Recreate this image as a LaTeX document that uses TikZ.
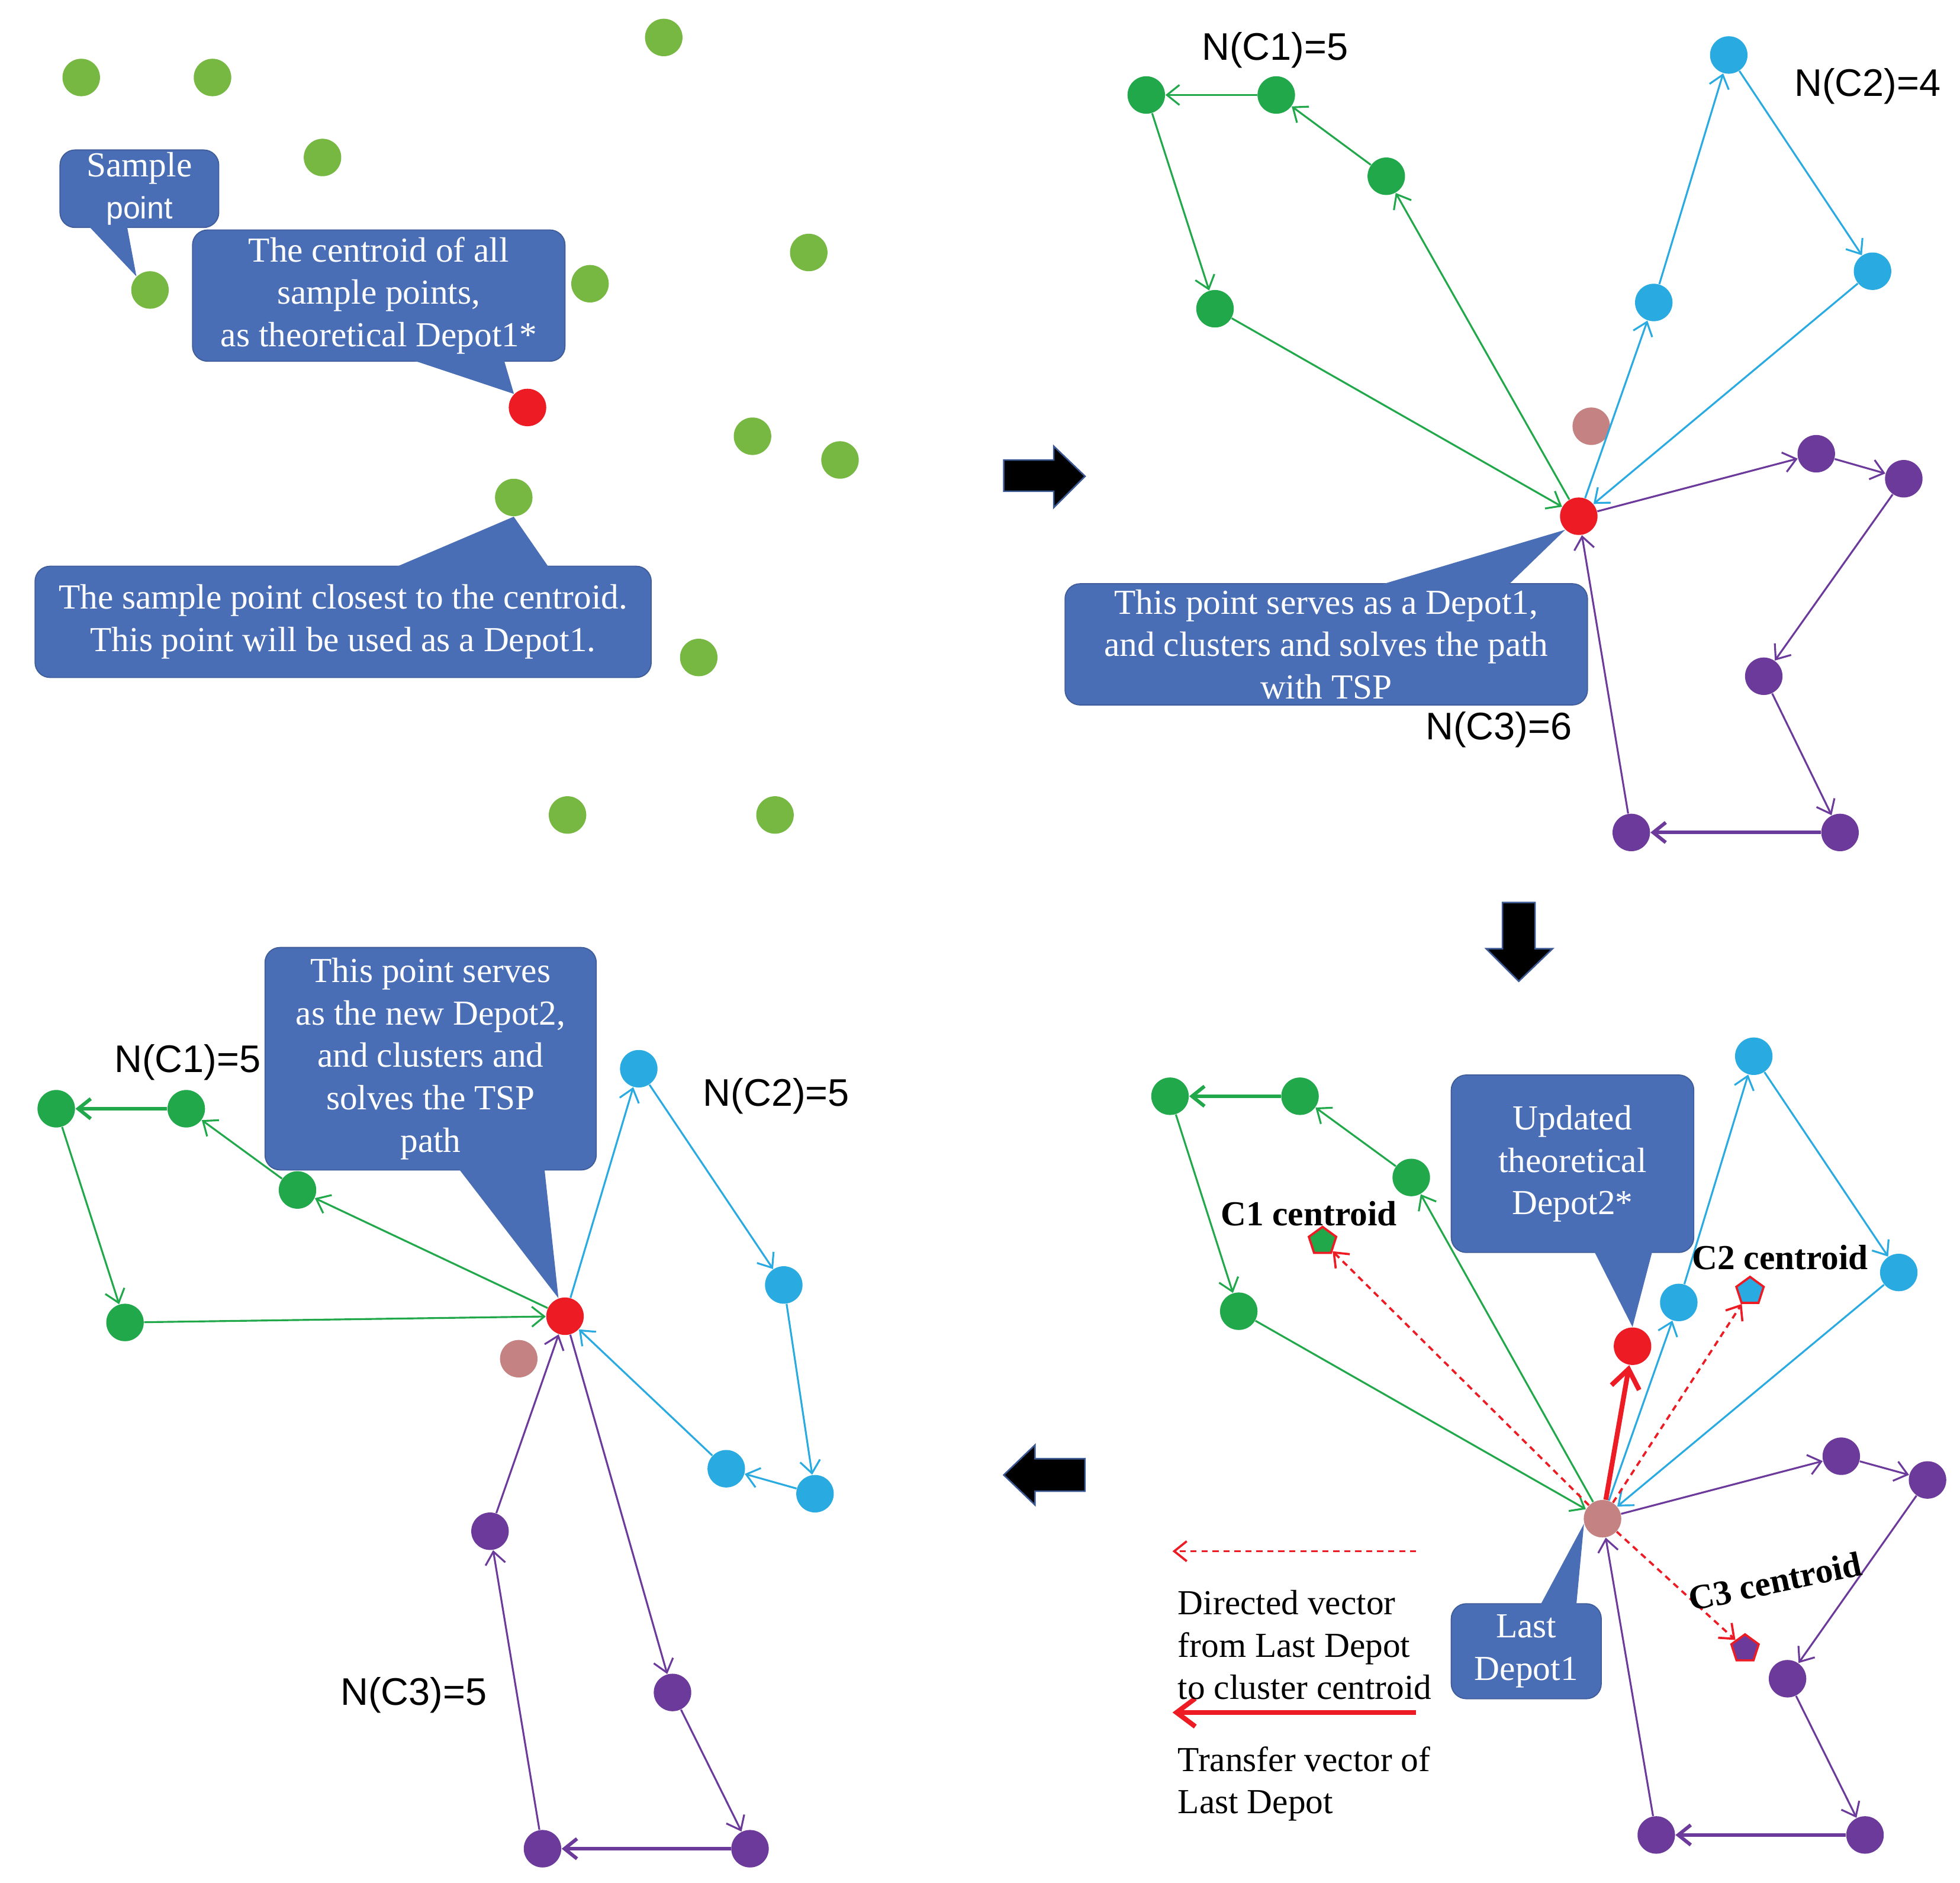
\documentclass[tikz,border=0pt]{standalone}
\usepackage{fontspec}
\setmainfont{Liberation Serif}
\setsansfont{Liberation Sans}
\usepackage{tikz}
\usetikzlibrary{arrows.meta, calc, shapes.geometric}
\definecolor{ptgreen}{HTML}{77B843}
\definecolor{cgreen}{HTML}{21A84B}
\definecolor{ccyan}{HTML}{29ABE2}
\definecolor{cpurple}{HTML}{6B3A9B}
\definecolor{dred}{HTML}{ED1C24}
\definecolor{dbrown}{HTML}{C48282}
\definecolor{callblue}{HTML}{4A6EB6}

\begin{document}
\begin{tikzpicture}[x=0.02cm, y=-0.02cm, >={Straight Barb[length=2mm,width=3.2mm]},
  dot/.style={circle, inner sep=0pt, minimum size=0.6cm},
  sdot/.style={dot, fill=ptgreen}, gdot/.style={dot, fill=cgreen},
  cdot/.style={dot, fill=ccyan}, pdot/.style={dot, fill=cpurple},
  rdot/.style={dot, fill=dred}, bdot/.style={dot, fill=dbrown},
  gedge/.style={->, cgreen, line width=0.85pt},
  cedge/.style={->, ccyan, line width=0.85pt},
  pedge/.style={->, cpurple, line width=0.85pt},
  heavy/.style={line width=1.6pt},
  callout/.style={fill=callblue, draw=callblue!85!black, line width=0.5pt, rounded corners=0.24cm,
    text=white, align=center, inner sep=0pt, font=\fontsize{16}{19.3}\selectfont},
  tail/.style={fill=callblue},
  nlabel/.style={font=\sffamily\fontsize{17.5}{21}\selectfont},
  clabel/.style={font=\bfseries\fontsize{16}{19.3}\selectfont},
  legtext/.style={anchor=west, align=left, inner sep=0pt, font=\fontsize{16}{19.3}\selectfont},
  centr/.style={regular polygon, regular polygon sides=5, inner sep=0pt, minimum size=0.46cm, draw=dred, line width=1pt},
  vecdash/.style={->, dred, line width=1pt, dash pattern=on 2.8pt off 2.2pt},
  vecmove/.style={-{Straight Barb[length=3mm,width=4.5mm]}, dred, line width=2.2pt},
  blockarrow/.style={fill=black, draw=callblue!80!black, line width=0.7pt}]
\useasboundingbox (0,0) rectangle (1568,1506);

% ---- panel 1: sample points ----
\node[sdot] (s1) at (65,62) {};
\node[sdot] (s2) at (170,62) {};
\node[sdot] (s3) at (531,30) {};
\node[sdot] (s4) at (258,126) {};
\node[sdot] (s5) at (120,232) {};
\node[sdot] (s6) at (472,227) {};
\node[sdot] (s7) at (647,202) {};
\node[sdot] (s8) at (602,349) {};
\node[sdot] (s9) at (672,368) {};
\node[sdot] (s10) at (411,398) {};
\node[sdot] (s11) at (559,526) {};
\node[sdot] (s12) at (454,652) {};
\node[sdot] (s13) at (620,652) {};
\node[rdot] (cen1) at (422,326) {};

\node[callout, minimum width=2.54cm, minimum height=1.24cm] (cSample) at (111.5,151) {Sample\\{\sffamily\fontsize{14}{19.3}\selectfont point}};
\fill[tail] ($(cSample.south)+(-41,-2)$) -- ($(cSample.south)+(-10,-2)$) -- (s5.north west) -- cycle;
\node[callout, minimum width=5.96cm, minimum height=2.1cm] (cCentroid) at (303,236.5) {The centroid of all\\sample points,\\as theoretical Depot1*};
\fill[tail] ($(cCentroid.south)+(25,-2)$) -- ($(cCentroid.south)+(100,-2)$) -- (cen1.north west) -- cycle;
\node[callout, minimum width=9.86cm, minimum height=1.78cm] (cClosest) at (274.5,497.5) {The sample point closest to the centroid.\\This point will be used as a Depot1.};
\fill[tail] ($(cClosest.north)+(40,2)$) -- ($(cClosest.north)+(165,2)$) -- (s10.south) -- cycle;

% ---- block arrows between panels ----
\filldraw[blockarrow] (803,368) -- (843,368) -- (843,357) -- (868,381) -- (843,406) -- (843,393) -- (803,393) -- cycle;
\filldraw[blockarrow] (1202,722) -- (1228,722) -- (1228,759) -- (1242,759) -- (1215,785) -- (1189,759) -- (1202,759) -- cycle;
\filldraw[blockarrow] (868,1167) -- (828,1167) -- (828,1156) -- (803,1180) -- (828,1204) -- (828,1193) -- (868,1193) -- cycle;

% ---- panel 2: clusters around Depot1 ----
\node[bdot] (bA) at (1273,341) {};
\node[rdot] (dA) at (1263,413) {};
\node[gdot] (gA1) at (917,76) {};
\node[gdot] (gA2) at (1021,76) {};
\node[gdot] (gA3) at (1109,141) {};
\node[gdot] (gA4) at (972,247) {};
\node[cdot] (cA1) at (1383,44) {};
\node[cdot] (cA2) at (1498,217) {};
\node[cdot] (cA3) at (1323,242) {};
\node[pdot] (pA1) at (1453,363) {};
\node[pdot] (pA2) at (1523,383) {};
\node[pdot] (pA3) at (1411,541) {};
\node[pdot] (pA4) at (1472,666) {};
\node[pdot] (pA5) at (1305,666) {};
\draw[gedge] (dA) -- (gA3);
\draw[gedge] (gA3) -- (gA2);
\draw[gedge] (gA2) -- (gA1);
\draw[gedge] (gA1) -- (gA4);
\draw[gedge] (gA4) -- (dA);
\draw[cedge] (dA) -- (cA3);
\draw[cedge] (cA3) -- (cA1);
\draw[cedge] (cA1) -- (cA2);
\draw[cedge] (cA2) -- (dA);
\draw[pedge] (dA) -- (pA1);
\draw[pedge] (pA1) -- (pA2);
\draw[pedge] (pA2) -- (pA3);
\draw[pedge] (pA3) -- (pA4);
\draw[pedge, heavy] (pA4) -- (pA5);
\draw[pedge] (pA5) -- (dA);
\node[nlabel] (nA1) at (1020,40) {N(C1)=5};
\node[nlabel] (nA2) at (1494,69) {N(C2)=4};
\node[nlabel] (nA3) at (1199,584) {N(C3)=6};
\node[callout, minimum width=8.36cm, minimum height=1.94cm] (cDepotA) at (1061,515.5) {This point serves as a Depot1,\\and clusters and solves the path\\with TSP};
\fill[tail] ($(cDepotA.north)+(41,2)$) -- ($(cDepotA.north)+(145,2)$) -- (dA.south west) -- cycle;

% ---- panel 3: clusters around Depot2 ----
\node[bdot] (bB) at (415,1087) {};
\node[rdot] (dB) at (452,1053) {};
\node[gdot] (gB1) at (45,887) {};
\node[gdot] (gB2) at (149,887) {};
\node[gdot] (gB3) at (238,952) {};
\node[gdot] (gB4) at (100,1058) {};
\node[cdot] (cB1) at (511,855) {};
\node[cdot] (cB2) at (627,1028) {};
\node[cdot] (cB3) at (652,1195) {};
\node[cdot] (cB4) at (581,1175) {};
\node[pdot] (pB1) at (392,1225) {};
\node[pdot] (pB2) at (538,1354) {};
\node[pdot] (pB3) at (600,1479) {};
\node[pdot] (pB4) at (434,1479) {};
\draw[gedge] (dB) -- (gB3);
\draw[gedge] (gB3) -- (gB2);
\draw[gedge, heavy] (gB2) -- (gB1);
\draw[gedge] (gB1) -- (gB4);
\draw[gedge] (gB4) -- (dB);
\draw[cedge] (dB) -- (cB1);
\draw[cedge] (cB1) -- (cB2);
\draw[cedge] (cB2) -- (cB3);
\draw[cedge] (cB3) -- (cB4);
\draw[cedge] (cB4) -- (dB);
\draw[pedge] (dB) -- (pB2);
\draw[pedge] (pB2) -- (pB3);
\draw[pedge, heavy] (pB3) -- (pB4);
\draw[pedge] (pB4) -- (pB1);
\draw[pedge] (pB1) -- (dB);
\node[nlabel] (nB1) at (150,850) {N(C1)=5};
\node[nlabel] (nB2) at (621,877) {N(C2)=5};
\node[nlabel] (nB3) at (331,1356) {N(C3)=5};
\node[callout, minimum width=5.3cm, minimum height=3.56cm] (cDepotB) at (344.5,847) {This point serves\\as the new Depot2,\\and clusters and\\solves the TSP\\path};
\fill[tail] ($(cDepotB.south)+(22,-2)$) -- ($(cDepotB.south)+(91,-2)$) -- (dB.110) -- cycle;

% ---- panel 4: moving the depot ----
\node[bdot] (dC) at (1282,1215) {};
\node[rdot] (nC) at (1306,1077) {};
\node[gdot] (gC1) at (936,877) {};
\node[gdot] (gC2) at (1040,877) {};
\node[gdot] (gC3) at (1129,942) {};
\node[gdot] (gC4) at (991,1049) {};
\node[cdot] (cC1) at (1403,845) {};
\node[cdot] (cC2) at (1519,1018) {};
\node[cdot] (cC3) at (1343,1042) {};
\node[pdot] (pC1) at (1473,1165) {};
\node[pdot] (pC2) at (1542,1184) {};
\node[pdot] (pC3) at (1430,1343) {};
\node[pdot] (pC4) at (1492,1468) {};
\node[pdot] (pC5) at (1325,1468) {};
\node[centr, fill=cgreen] (k1) at (1058,993) {};
\node[centr, fill=ccyan] (k2) at (1400,1033) {};
\node[centr, fill=cpurple] (k3) at (1396,1319) {};
\draw[gedge] (dC) -- (gC3);
\draw[gedge] (gC3) -- (gC2);
\draw[gedge, heavy] (gC2) -- (gC1);
\draw[gedge] (gC1) -- (gC4);
\draw[gedge] (gC4) -- (dC);
\draw[cedge] (dC) -- (cC3);
\draw[cedge] (cC3) -- (cC1);
\draw[cedge] (cC1) -- (cC2);
\draw[cedge] (cC2) -- (dC);
\draw[pedge] (dC) -- (pC1);
\draw[pedge] (pC1) -- (pC2);
\draw[pedge] (pC2) -- (pC3);
\draw[pedge] (pC3) -- (pC4);
\draw[pedge, heavy] (pC4) -- (pC5);
\draw[pedge] (pC5) -- (dC);
\draw[vecdash] (dC) -- (k1);
\draw[vecdash] (dC) -- (k2);
\draw[vecdash] (dC) -- (k3);
\draw[vecmove] (dC) -- (nC);
\node[clabel] (lk1) at (1047,971) {C1 centroid};
\node[clabel] (lk2) at (1424,1006) {C2 centroid};
\node[clabel, rotate=12] (lk3) at (1420,1265) {C3 centroid};
\node[callout, minimum width=3.88cm, minimum height=2.84cm] (cNew) at (1258,931) {Updated\\theoretical\\Depot2*};
\fill[tail] ($(cNew.south)+(17,-2)$) -- ($(cNew.south)+(64,-2)$) -- (nC.north) -- cycle;
\node[callout, minimum width=2.4cm, minimum height=1.52cm] (cLast) at (1221,1321) {Last\\Depot1};
\fill[tail] ($(cLast.north)+(11,2)$) -- ($(cLast.north)+(40,2)$) -- (dC.195) -- cycle;

% legend
\coordinate (lgA1) at (1133,1241);
\coordinate (lgA2) at (938,1241);
\coordinate (lgB1) at (1133,1370);
\coordinate (lgB2) at (938,1370);
\draw[vecdash] (lgA1) -- (lgA2);
\draw[vecmove] (lgB1) -- (lgB2);
\node[legtext] (lgA) at (942,1316) {Directed vector\\from Last Depot\\to cluster centroid};
\node[legtext] (lgB) at (942,1427) {Transfer vector of\\Last Depot};
\end{tikzpicture}
\end{document}
